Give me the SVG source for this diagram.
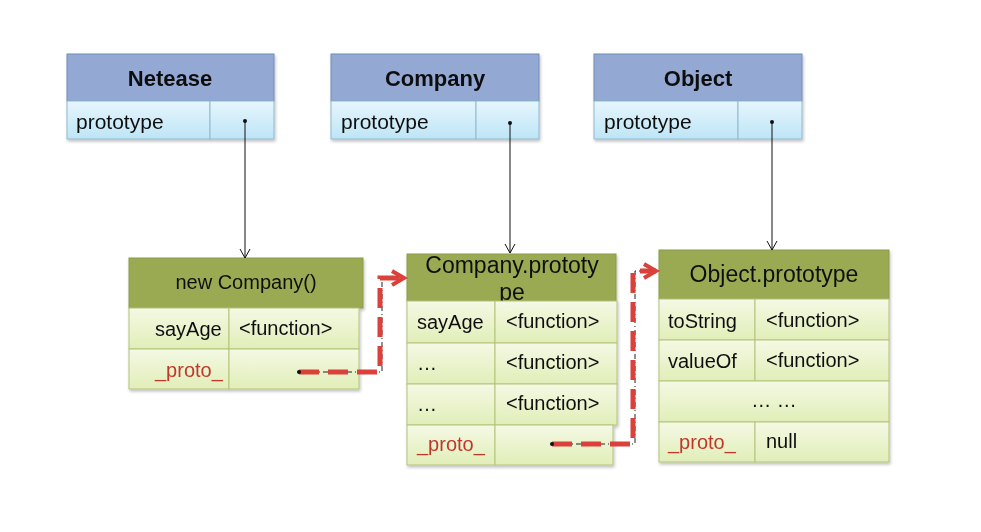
<svg xmlns="http://www.w3.org/2000/svg" width="981" height="532" viewBox="0 0 981 532">
<defs>
<style>
.bh{fill:#93A9D4;stroke:#6F8BB8;stroke-width:1}
.br{fill:url(#gb);stroke:#8FB9D0;stroke-width:1}
.gh{fill:#9AAA52;stroke:#8C9C48;stroke-width:1}
.gr{fill:url(#gg);stroke:#B3C37A;stroke-width:1}
.t{font-family:"Liberation Sans",Arial,sans-serif;font-size:20px;fill:#111}
.tp{font-family:"Liberation Sans",Arial,sans-serif;font-size:21px;fill:#111}
.tb{font-family:"Liberation Sans",Arial,sans-serif;font-size:22px;font-weight:bold;fill:#111}
.th{font-family:"Liberation Sans",Arial,sans-serif;font-size:23px;fill:#111}
.red{fill:#C0392B}
.ln{stroke:#111;stroke-width:1;fill:none}
.rd{stroke:#D9413A;stroke-width:5;fill:none;stroke-dasharray:20 9}
.bd{stroke:#222;stroke-width:1;fill:none;stroke-dasharray:5 3 1 3}
</style>
<linearGradient id="gb" x1="0" y1="0" x2="0" y2="1"><stop offset="0" stop-color="#E6F6FD"/><stop offset="1" stop-color="#BEE5F6"/></linearGradient>
<linearGradient id="gg" x1="0" y1="0" x2="0" y2="1"><stop offset="0" stop-color="#F4F9E4"/><stop offset="1" stop-color="#E1EEB8"/></linearGradient>
<filter id="sh" x="-5%" y="-5%" width="110%" height="115%"><feDropShadow dx="1" dy="2" stdDeviation="1.5" flood-color="#000" flood-opacity="0.25"/></filter>
<marker id="av" markerWidth="12" markerHeight="12" refX="10" refY="6" orient="auto" markerUnits="userSpaceOnUse"><path d="M1,1 L10,6 L1,11" fill="none" stroke="#111" stroke-width="1"/></marker>
<marker id="ar" markerWidth="18" markerHeight="18" refX="14" refY="9" orient="auto" markerUnits="userSpaceOnUse"><path d="M2,2 L14,9 L2,16" fill="none" stroke="#D9413A" stroke-width="4"/></marker>
</defs>
<rect width="981" height="532" fill="#fff"/>

<g id="netease" filter="url(#sh)">
<rect class="bh" x="67" y="54" width="207" height="47"/>
<rect class="br" x="67" y="101" width="143" height="38"/>
<rect class="br" x="210" y="101" width="64" height="38"/>
<text class="tb" x="170" y="86" text-anchor="middle">Netease</text>
<text class="tp" x="76" y="129">prototype</text>
</g>

<g id="company" filter="url(#sh)">
<rect class="bh" x="331" y="54" width="208" height="47"/>
<rect class="br" x="331" y="101" width="145" height="38"/>
<rect class="br" x="476" y="101" width="63" height="38"/>
<text class="tb" x="435" y="86" text-anchor="middle">Company</text>
<text class="tp" x="341" y="129">prototype</text>
</g>

<g id="object" filter="url(#sh)">
<rect class="bh" x="594" y="54" width="208" height="47"/>
<rect class="br" x="594" y="101" width="144" height="38"/>
<rect class="br" x="738" y="101" width="64" height="38"/>
<text class="tb" x="698" y="86" text-anchor="middle">Object</text>
<text class="tp" x="604" y="129">prototype</text>
</g>

<g id="newCompany" filter="url(#sh)">
<rect class="gh" x="129" y="258" width="234" height="50"/>
<rect class="gr" x="129" y="308" width="100" height="41"/>
<rect class="gr" x="229" y="308" width="130" height="41"/>
<rect class="gr" x="129" y="349" width="100" height="40"/>
<rect class="gr" x="229" y="349" width="130" height="40"/>
<text class="t" x="246" y="289" text-anchor="middle" font-size="20">new Company()</text>
<text class="t" x="155" y="336">sayAge</text>
<text class="t" x="239" y="335">&lt;function&gt;</text>
<text class="t red" x="155" y="377">_proto_</text>
</g>

<g id="companyPrototype" filter="url(#sh)">
<rect class="gh" x="407" y="254" width="209" height="47"/>
<text class="th" x="512" y="273" text-anchor="middle">Company.prototy</text>
<text class="th" x="512" y="300" text-anchor="middle">pe</text>
<rect class="gr" x="407" y="301" width="88" height="42"/>
<rect class="gr" x="495" y="301" width="122" height="42"/>
<rect class="gr" x="407" y="343" width="88" height="41"/>
<rect class="gr" x="495" y="343" width="122" height="41"/>
<rect class="gr" x="407" y="384" width="88" height="41"/>
<rect class="gr" x="495" y="384" width="122" height="41"/>
<rect class="gr" x="407" y="425" width="88" height="40"/>
<rect class="gr" x="495" y="425" width="118" height="40"/>
<text class="t" x="417" y="329">sayAge</text>
<text class="t" x="506" y="328">&lt;function&gt;</text>
<text class="t" x="417" y="370">…</text>
<text class="t" x="506" y="369">&lt;function&gt;</text>
<text class="t" x="417" y="411">…</text>
<text class="t" x="506" y="410">&lt;function&gt;</text>
<text class="t red" x="417" y="451">_proto_</text>
</g>

<g id="objectPrototype" filter="url(#sh)">
<rect class="gh" x="659" y="250" width="230" height="49"/>
<text class="th" x="774" y="282" text-anchor="middle">Object.prototype</text>
<rect class="gr" x="659" y="299" width="96" height="41"/>
<rect class="gr" x="755" y="299" width="134" height="41"/>
<rect class="gr" x="659" y="340" width="96" height="41"/>
<rect class="gr" x="755" y="340" width="134" height="41"/>
<rect class="gr" x="659" y="381" width="230" height="41"/>
<rect class="gr" x="659" y="422" width="96" height="40"/>
<rect class="gr" x="755" y="422" width="134" height="40"/>
<text class="t" x="668" y="328">toString</text>
<text class="t" x="766" y="327">&lt;function&gt;</text>
<text class="t" x="668" y="368">valueOf</text>
<text class="t" x="766" y="367">&lt;function&gt;</text>
<text class="t" x="774" y="407" text-anchor="middle">… …</text>
<text class="t red" x="668" y="449">_proto_</text>
<text class="t" x="766" y="448">null</text>
</g>

<g id="connectors">
<circle cx="245" cy="121" r="2" fill="#111"/>
<line class="ln" x1="245" y1="121" x2="245" y2="258" marker-end="url(#av)"/>
<circle cx="510" cy="123" r="2" fill="#111"/>
<line class="ln" x1="510" y1="123" x2="510" y2="253" marker-end="url(#av)"/>
<circle cx="772" cy="122" r="2" fill="#111"/>
<line class="ln" x1="772" y1="122" x2="772" y2="250" marker-end="url(#av)"/>

<path class="bd" d="M299,372 H382 V278 H400"/>
<path class="rd" d="M299,372 H380 V278 H404" marker-end="url(#ar)"/>
<circle cx="299" cy="372" r="2" fill="#111"/>

<path class="bd" d="M552,444 H635 V271 H652"/>
<path class="rd" d="M552,444 H633 V271 H656" marker-end="url(#ar)"/>
<circle cx="552" cy="444" r="2" fill="#111"/>
</g>
</svg>
